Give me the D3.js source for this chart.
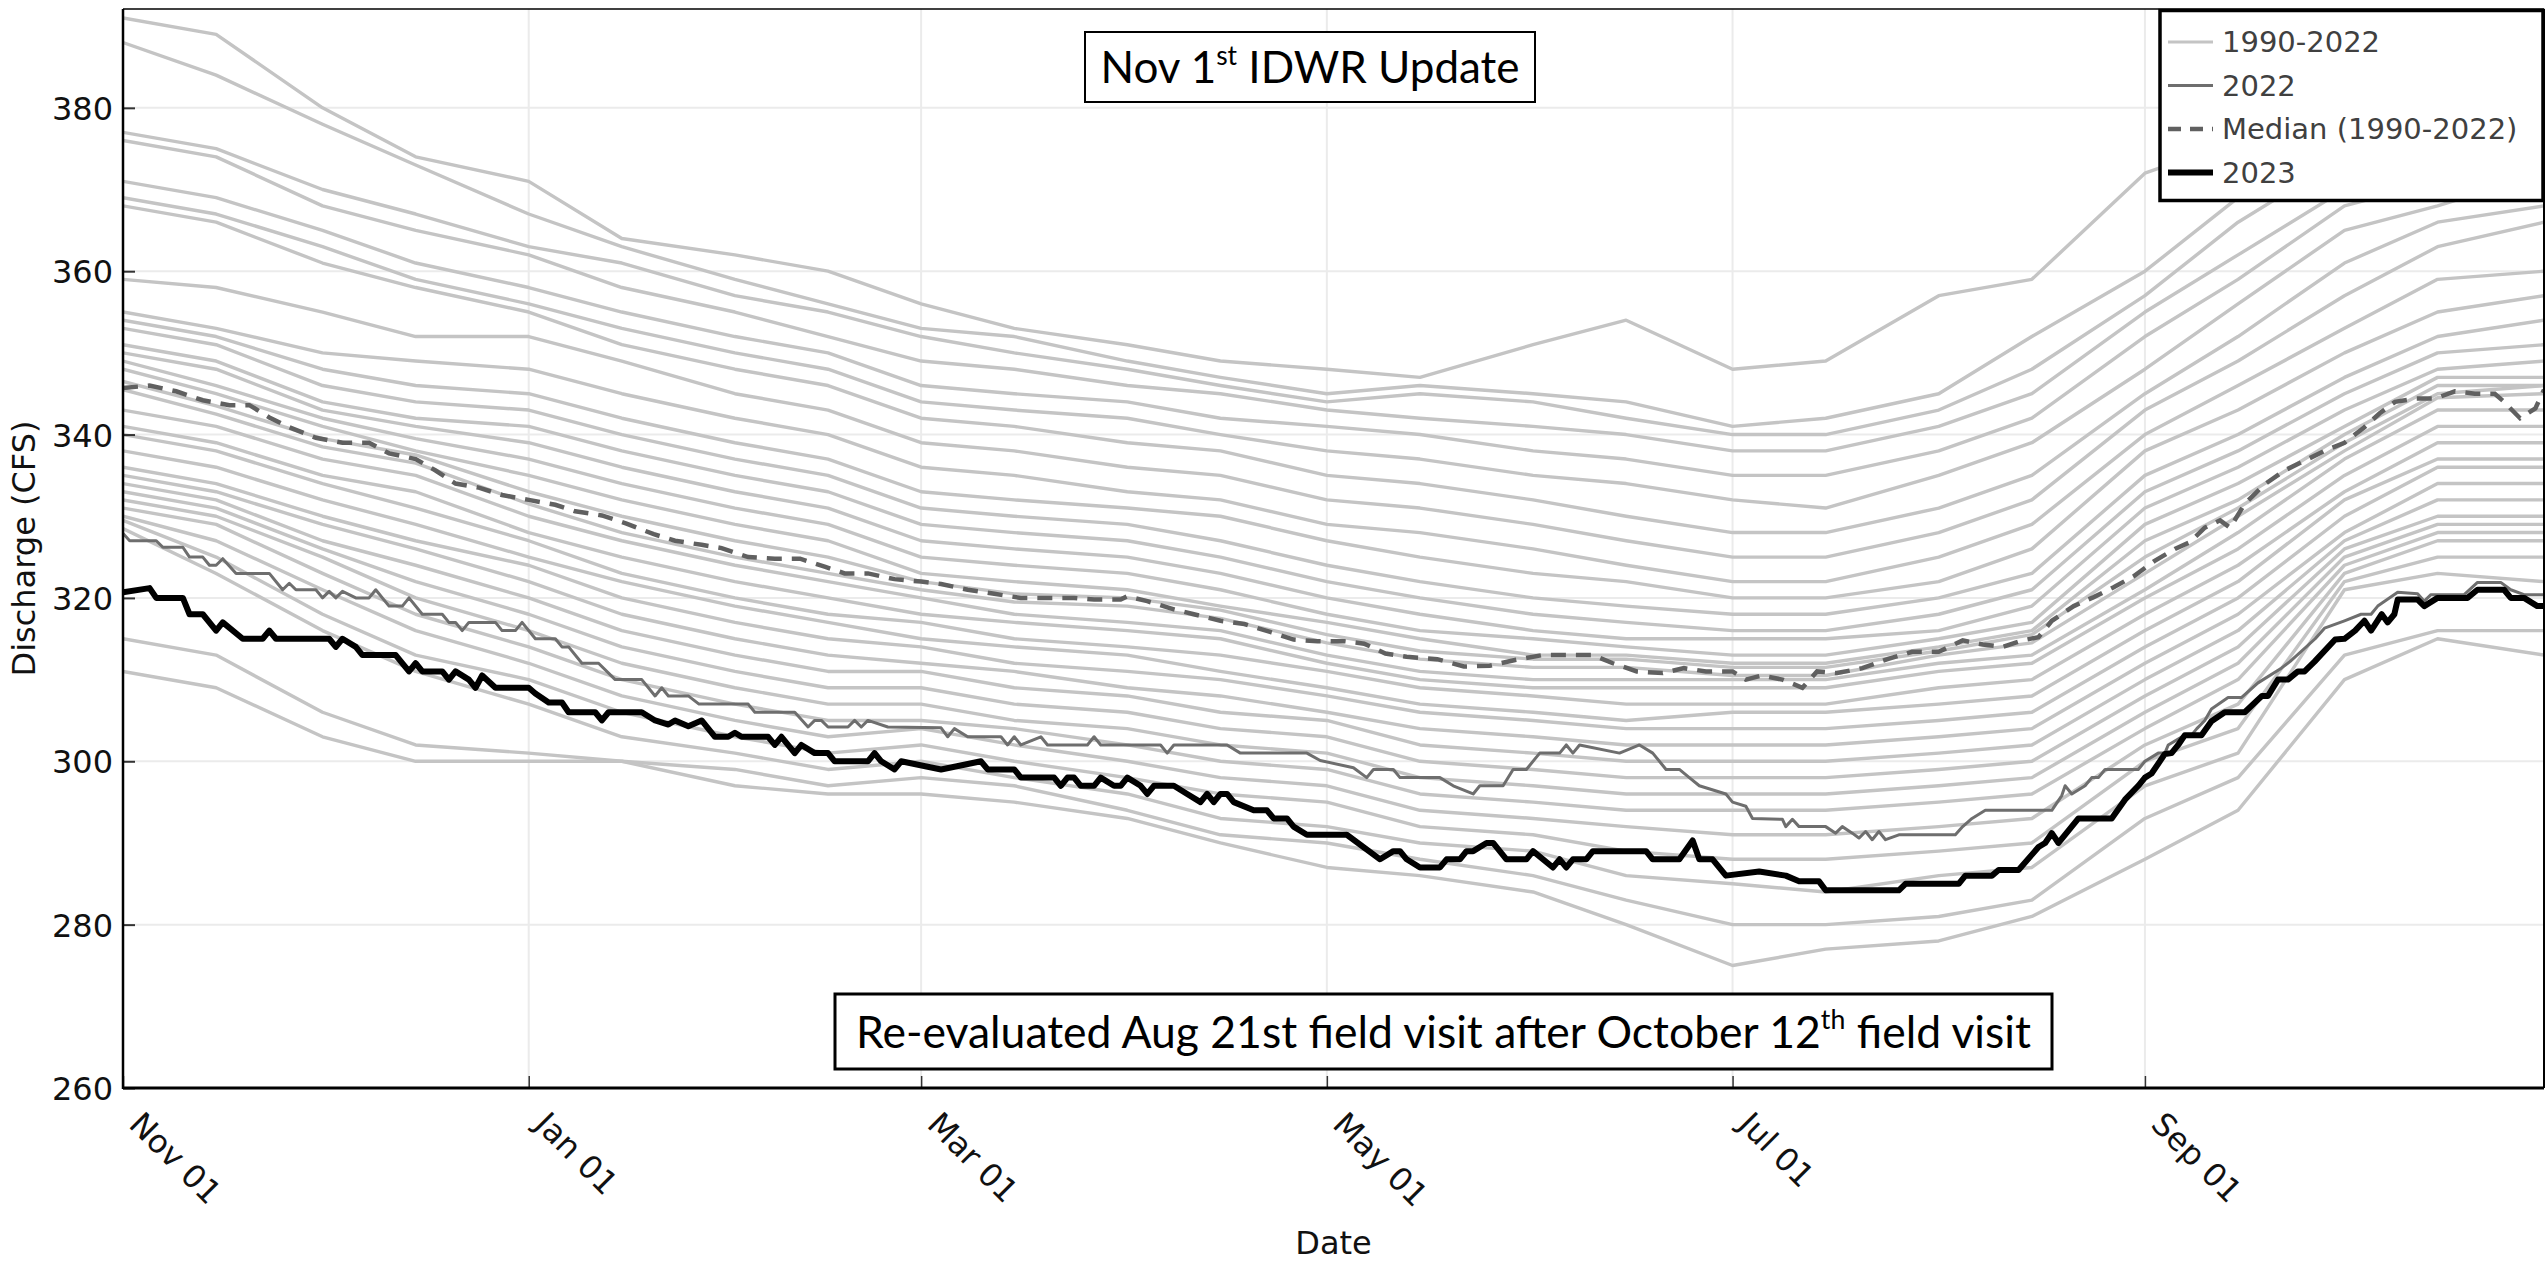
<!DOCTYPE html>
<html lang="en">
<head>
<meta charset="utf-8">
<title>Discharge (CFS) - Nov 1st IDWR Update</title>
<script src="https://cdnjs.cloudflare.com/ajax/libs/d3/7.8.5/d3.min.js"></script>
<style>
  body { margin: 0; background: #fff; }
  svg { display: block; }
</style>
</head>
<body>
<script>
// key dates used for the 1990-2022 runs (every ~2 weeks)
var keyDates = ["2022-11-01","2022-11-15","2022-12-01","2022-12-15","2023-01-01","2023-01-15",
  "2023-02-01","2023-02-15","2023-03-01","2023-03-15","2023-04-01","2023-04-15","2023-05-01",
  "2023-05-15","2023-06-01","2023-06-15","2023-07-01","2023-07-15","2023-08-01","2023-08-15",
  "2023-09-01","2023-09-15","2023-10-01","2023-10-15","2023-10-31"];

// 1990-2022 runs, upper bundle
var highRuns = [
  [391,389,380,374,371,364,362,360,356,353,351,349,348,347,351,354,348,349,357,359,372,376,380,383,386],
  [388,384,378,373,367,363,359,356,353,352,349,347,345,346,345,344,341,342,345,352,360,369,377,380,383],
  [377,375,370,367,363,361,357,355,352,350,348,346,344,345,344,342,340,340,343,348,357,366,374,377,380],
  [376,374,368,365,362,358,355,352,349,348,346,345,343,342,341,340,338,338,341,345,355,362,370,374,377],
  [371,369,365,361,358,355,352,350,346,345,344,342,341,340,338,337,335,335,338,342,352,359,368,371,374],
  [369,367,363,359,356,353,350,348,344,343,342,340,338,337,335,334,332,331,335,339,348,356,365,368,372],
  [368,366,361,358,355,351,348,346,342,341,339,338,335,334,332,330,328,328,331,335,345,352,361,366,368],
  [359,358,355,352,352,349,345,343,339,338,336,335,332,331,329,327,325,325,328,332,343,349,357,363,366],
  [355,353,350,349,348,345,342,340,336,335,333,332,329,328,326,324,322,322,325,329,340,346,353,359,360],
  [354,352,348,346,345,342,339,337,333,332,331,330,327,325,323,322,320,320,322,326,338,343,350,355,357]
];
// middle bundle
var midRuns = [
  [353,351,346,344,343,340,337,335,331,330,329,327,324,322,320,319,318,318,320,323,335,340,347,352,354],
  [351,349,344,342,341,338,335,333,329,328,327,325,322,320,318,317,316,316,318,321,333,338,345,350,351],
  [350,348,343,341,339,336,333,331,327,326,325,323,320,318,316,315,315,315,316,319,331,336,343,348,349],
  [349,346,342,339.5,337,334,331,329,325,324,323,321,318,316,315,314,313,313,315,317,329,334,341,347,347],
  [348,345,341,338,335,332,329,327,323,322,321,319,317,315,313,313,312,312,314,316,327,332,340,346,346],
  [346.5,343.5,339.5,337.5,333,330,327,325,322,320.5,320,318.5,315.5,313.5,312.5,312.5,311.5,311.5,313.5,315.5,325,331,339,345,346],
  [345.5,342.5,338.5,336.5,331.5,328,325,323,321,319.5,319,317.5,314.5,312.5,311.5,311.5,310.5,310.5,313,314.5,323,330,338,344.5,345],
  [343,341,337,335,330,327,324,322,320,318,317,316,313,311,310,310,310,310,312,313,321,328,337,343,343],
  [341,339,335,333,328,325,322,320,318,317,316,315,312,310,309,309,309,309,311,312,320,326,335,341,341],
  [340,338,334,331,327,323,320,318,317,315,314,313,311,309,308,307,307,307,309,310,318,324,333,339,339],
  [338,336,332,329,325,322,319,317,315,314,313,311,309,307,306,305,306,306,307,308,316,322,332,337,337],
  [336,334,330,327,324,320,317,315,314,312,311,310,308,306,305,304,304,304,305,306,314,320,330,336,336]
];
// lower bundle
var lowRuns = [
  [335,333,329,326,322,318,315,313,312,311,309,308,306,304,303,302,302,302,303,304,312,318,328,334,334],
  [334,332,327,324,320,316,313,311,311,309,308,306,305,302,301,300,300,300,301,302,310,316,327,332,332],
  [333,331,326,322,318,314,311,309,309,307,306,304,303,300,299,298,298,298,299,300,308,314,326,330,330],
  [332,330,325,320,316,312,309,307,307,305,304,302,301,298,297,296,296,296,297,298,306,312,325,329,329],
  [331,329,323,318,314,310,307,305,305,304,302,300,299,296,295,294,294,294,295,296,304,310,324,328,328],
  [330,327,321,316,312,308,305,303,304,302,300,298,297,294,293,292,291,291,292,293,302,307,323,327,327],
  [329.5,325,318,313,310,306,303,301,302,300,298,296,295,292,291,289,288,288,289,290,300,304,322,325,325],
  [328.5,323,316,311,307,303,301,299,300,298,296,293,292,290,289,286,285,284,286,287,297,301,321,323,322],
  [315,313,306,302,301,300,299,297,298,297,294,291,290,288,286,283,280,280,281,283,293,298,313,316,316],
  [311,309,303,300,300,300,297,296,296,295,293,290,287,286,284,280,275,277,278,281,288,294,310,315,313]
];

// [days after Nov 1, cfs]
var median = [[0,345.7],[4,346],[8,345.3],[12,344.2],[16,343.6],[19,343.6],[22,342.1],[25,340.9],[29,339.6],
  [33,339],[37,339],[40,337.7],[44,337],[47,335.6],[50,334],[53.5,333.5],[57,332.6],[61,332],[65,331.4],
  [68,330.6],[72,330.1],[75.7,329.1],[79.8,327.8],[83,327],[87,326.5],[90,326.1],[94,325],[98,324.8],
  [101.8,324.8],[105.6,323.8],[108.5,323],[112,323],[116,322.3],[120,322],[123,321.7],[127,321],[131,320.5],
  [135,320],[143,320],[146,319.8],[150,319.8],[151,320.2],[154,319.6],[158,318.6],[161,318],[165,317.2],
  [168.6,316.8],[172.6,315.8],[176,314.9],[179.6,314.7],[183.6,314.7],[186.6,314.4],[189.8,313.2],[193,312.8],
  [197.6,312.5],[201.6,311.6],[205.5,311.7],[209.3,312.4],[213.4,313],[217,313],[221,313],[224,312],
  [227.6,311],[231.5,310.8],[234.7,311.4],[238,311],[242,311],[244,310],[246.4,310.5],[249.5,310],
  [252.5,309],[254.7,311],[257.7,310.8],[261.5,311.4],[265.3,312.5],[269,313.4],[273,313.4],[276.6,314.8],
  [279.6,314.3],[282.6,314],[285.6,314.8],[288,315.2],[290,317.2],[293.3,319],[296.3,320.1],[299.3,321.3],
  [302.4,322.7],[305.4,324.5],[308.5,326],[310.7,326.8],[313,328.6],[315.3,329.5],[316.8,328.6],[319,331.5],
  [322,333.9],[325,335.6],[328,336.8],[331,338],[334,339],[337,340.9],[339.3,342.6],[341.6,344],[344.6,344.4],
  [347.6,344.4],[350.6,345.3],[353.6,345],[356.6,345],[358,344],[360.4,342],[362.7,343.2],[364,345.5]];

var run2022 = [[0,327.9],[1,327],[5,327],[6,326.2],[9,326.2],[10,325],[12,325],[13,324],[14,324],[15,324.8],
  [17,323],[22,323],[24,321],[25,321.8],[26,321],[29,321],[30,320],[31,320.8],[32,320],[33,320.8],[35,320],
  [37,320],[38,321],[40,319],[42,319],[43,320],[45,318],[48,318],[49,317],[50,317],[51,316],[52,317],[56,317],
  [57,316],[59,316],[60,317],[62,315],[65,315],[66,314],[67,314],[69,312],[71.5,312],[74,310],[78,310],[80,308],
  [81,309],[82,308],[85,308],[86.6,307],[94,307],[95,306],[101,306],[103,304.2],[104,305],[105,305],[106,304.2],
  [109,304.2],[110,305],[111,304.2],[112,305],[115,304.2],[123,304.1],[124,303],[125,304],[127,303],[132,303],
  [133,302],[134,303],[135,302],[138,303],[139,302],[145,302],[146,303],[147,302],[156,302],[157,301],[158,302],
  [166,302],[168,301],[178,301],[180,300.1],[185,299.2],[187,298],[188,299],[191,299],[192,298],[198,298],
  [200,297],[203,296],[204,297],[207.5,297],[209,299],[211,299],[213,301],[216,301],[217,302],[218,301],
  [219,302],[225,301],[228,302],[230,301],[232,299],[234,299],[235.5,298],[237,297],[241,296],[242,295],
  [244,294.5],[245,293],[249.5,292.9],[250,292],[251,292.9],[252,292],[256,292],[257.5,291.2],[258.5,292],
  [260,291.2],[261,290.6],[262,291.4],[263,290.4],[264,291.4],[265,290.4],[267,291],[275.5,291],[276.6,292],
  [278,293],[280,294],[290,294],[291.5,295.8],[292,297],[293,296],[295,297],[296,298],[297,298],[298,299],
  [303,299],[304,300],[306,301],[307,301],[307.5,302],[310,303.2],[311,303.2],[311.8,304],[313,305],[314,306.4],
  [316.5,307.8],[318.5,307.8],[321,309.6],[324.5,311.4],[325.8,312.2],[329.6,315],[331,316.3],[334,317.2],
  [336.5,318],[338,318],[339,319],[342,320.7],[345,320.5],[346,319.6],[347,320.4],[352,320.4],[354,321.9],
  [357.5,321.9],[359,321],[361,320.4],[364,320.4]];

var run2023 = [[0,320.7],[4,321.2],[5,320],[9,320],[10,318],[12,318],[14,316],[15,317],[18,315],[21,315],
  [22,316],[23,315],[31,315],[32,314],[33,315],[35,314],[36,313],[41,313],[43,311],[44,312],[45,311],[48,311],
  [49,310],[50,311],[52,310],[53,309],[54,310.5],[56,309],[61,309],[62,308.3],[64,307.2],[66,307.2],[67,306],
  [71,306],[72,305],[73,306],[78,306],[80,305],[82,304.5],[83,305],[85,304.3],[87,305],[89,303],[91,303],
  [92,303.5],[93,303],[97,303],[98,302],[99,303],[101,301],[102,302],[104,301],[106,301],[107,300],[112,300],
  [113,301],[114,300],[116,299],[117,300],[123,299],[129,300],[130,299],[134,299],[135,298],[140,298],[141,297],
  [142,298],[143,298],[144,297],[146,297],[147,298],[149,297],[150,297],[151,298],[153,297],[154,296],[155,297],
  [158,297],[160,296],[162,295],[163,296],[164,295],[165,296],[166,296],[167,295],[170,294],[172,294],[173,293],
  [175,293],[176,292],[178,291],[184,291],[189,288],[191,289],[192,289],[193,288],[195,287],[198,287],[199,288],
  [201,288],[202,289],[203,289],[205,290],[206,290],[208,288],[211,288],[212,289],[215,287],[216,288],[217,287],
  [218,288],[220,288],[221,289],[229,289],[230,288],[234,288],[236,290.3],[237,288],[239,288],[241,286],
  [246,286.5],[250,286],[252,285.3],[255,285.3],[256,284.2],[267,284.2],[268,285],[276,285],[277,286],[281,286],
  [282,286.7],[285,286.7],[288,289.5],[289,290],[290,291.2],[291,290],[294,293],[299,293],[301,295.3],[303,297],
  [304,298],[305,298.5],[307,300.9],[308,301],[309,302],[310,303.2],[312.5,303.2],[314,304.9],[316,306],
  [319,306],[321.6,308],[322.5,308],[324,310],[325.5,310],[327,311],[328,311],[329.5,312.2],[332.6,314.9],
  [334,315],[335.6,316],[337,317.2],[338,316],[339.6,318],[340.5,317],[341.5,318],[342,319.8],[345,319.8],
  [346,319],[348,320],[352.5,320],[354,321],[358,321],[359,320],[361,320],[363,319],[364,319]];

var yTicks = [260, 280, 300, 320, 340, 360, 380];
var legendLabels = ["1990-2022", "2022", "Median (1990-2022)", "2023"];

var W = 2547, H = 1268;
var plot = {left: 123, right: 2544, top: 9, bottom: 1088};

var parse = d3.utcParse("%Y-%m-%d");
var start = parse("2022-11-01");
function dayToDate(d) { return new Date(start.getTime() + d * 864e5); }

var x = d3.scaleUtc().domain([start, parse("2023-10-31")]).range([plot.left, plot.right]);
var y = d3.scaleLinear().domain([260, 392.1]).range([plot.bottom, plot.top]);

var svg = d3.select("body").append("svg").attr("width", W).attr("height", H);

svg.append("defs").append("clipPath").attr("id", "plotclip")
  .append("rect").attr("x", plot.left).attr("y", plot.top)
  .attr("width", plot.right - plot.left).attr("height", plot.bottom - plot.top);

var xTickVals = x.ticks(d3.utcMonth.every(2));

// grid
var grid = svg.append("g");
grid.selectAll(".gx").data(xTickVals).enter().append("line")
  .attr("x1", function(d) { return x(d); }).attr("x2", function(d) { return x(d); })
  .attr("y1", plot.top).attr("y2", plot.bottom)
  .attr("stroke", "#ebebeb").attr("stroke-width", 2);
grid.selectAll(".gy").data(yTicks).enter().append("line")
  .attr("x1", plot.left).attr("x2", plot.right)
  .attr("y1", function(d) { return y(d); }).attr("y2", function(d) { return y(d); })
  .attr("stroke", "#ebebeb").attr("stroke-width", 2);

var dates = keyDates.map(parse);
var line = d3.line().x(function(d) { return x(d[0]); }).y(function(d) { return y(d[1]); });

var runs = highRuns.concat(midRuns, lowRuns).map(function(r) {
  return r.map(function(v, i) { return [dates[i], v]; });
});
function toDates(s) { return s.map(function(p) { return [dayToDate(p[0]), p[1]]; }); }

var lines = svg.append("g").attr("clip-path", "url(#plotclip)");
lines.selectAll(".hist").data(runs).enter().append("path")
  .attr("d", line).attr("fill", "none")
  .attr("stroke", "#c4c4c4").attr("stroke-width", 3.4).attr("stroke-linejoin", "round");

lines.append("path").attr("d", line(toDates(run2022))).attr("fill", "none")
  .attr("stroke", "#6e6e6e").attr("stroke-width", 3).attr("stroke-linejoin", "round");

lines.append("path").attr("d", line(toDates(median))).attr("fill", "none")
  .attr("stroke", "#606060").attr("stroke-width", 4.5).attr("stroke-dasharray", "15,10");

lines.append("path").attr("d", line(toDates(run2023))).attr("fill", "none")
  .attr("stroke", "#000").attr("stroke-width", 6).attr("stroke-linejoin", "round");

// axes
var gx = svg.append("g").attr("transform", "translate(0," + plot.bottom + ")")
  .call(d3.axisBottom(x).tickValues(xTickVals).tickFormat(d3.utcFormat("%b %d")).tickSize(-12).tickPadding(0));
gx.attr("font-family", "'DejaVu Sans', sans-serif").attr("font-size", 32);
gx.select(".domain").remove();
gx.selectAll(".tick line").attr("stroke", "#333").attr("stroke-width", 1.5);
gx.selectAll(".tick text").attr("x", 0).attr("y", 0).attr("dy", 0)
  .attr("text-anchor", "start").attr("fill", "#111")
  .attr("transform", "translate(4,38) rotate(45)");

var gy = svg.append("g").attr("transform", "translate(" + plot.left + ",0)")
  .call(d3.axisLeft(y).tickValues(yTicks).tickSize(-12).tickPadding(10));
gy.attr("font-family", "'DejaVu Sans', sans-serif").attr("font-size", 32);
gy.select(".domain").remove();
gy.selectAll(".tick line").attr("stroke", "#333").attr("stroke-width", 2);
gy.selectAll(".tick text").attr("fill", "#111").attr("dy", "0.36em");

// frame
svg.append("line").attr("x1", plot.left).attr("x2", plot.right).attr("y1", plot.top).attr("y2", plot.top)
  .attr("stroke", "#000").attr("stroke-width", 1.5);
svg.append("line").attr("x1", plot.right).attr("x2", plot.right).attr("y1", plot.top).attr("y2", plot.bottom)
  .attr("stroke", "#000").attr("stroke-width", 2);
svg.append("line").attr("x1", plot.left).attr("x2", plot.left).attr("y1", plot.top).attr("y2", plot.bottom + 1)
  .attr("stroke", "#000").attr("stroke-width", 2.5);
svg.append("line").attr("x1", plot.left).attr("x2", plot.right).attr("y1", plot.bottom).attr("y2", plot.bottom)
  .attr("stroke", "#000").attr("stroke-width", 3);

// axis titles
svg.append("text").attr("x", (plot.left + plot.right) / 2).attr("y", 1254)
  .attr("text-anchor", "middle").attr("font-family", "'DejaVu Sans', sans-serif")
  .attr("font-size", 32).attr("fill", "#111").text("Date");
svg.append("text").attr("transform", "translate(35," + (plot.top + plot.bottom) / 2 + ") rotate(-90)")
  .attr("text-anchor", "middle").attr("font-family", "'DejaVu Sans', sans-serif")
  .attr("font-size", 32).attr("fill", "#111").text("Discharge (CFS)");

// annotation boxes
function noteBox(bx, by, bw, bh, sw, before, sup, after, size, baseline) {
  var g = svg.append("g");
  g.append("rect").attr("x", bx).attr("y", by).attr("width", bw).attr("height", bh)
    .attr("fill", "#fff").attr("stroke", "#000").attr("stroke-width", sw);
  var t = g.append("text").attr("x", bx + bw / 2).attr("y", baseline)
    .attr("text-anchor", "middle").attr("font-family", "Lato, 'Open Sans', sans-serif")
    .attr("font-size", size).attr("fill", "#000");
  t.append("tspan").text(before);
  t.append("tspan").attr("font-size", size * 0.6).attr("dy", -size * 0.42).text(sup);
  t.append("tspan").attr("dy", size * 0.42).text(after);
  return t;
}
noteBox(1085, 32, 450, 70, 2, "Nov 1", "st", " IDWR Update", 44, 83);
noteBox(835, 994, 1217, 75, 3, "Re-evaluated Aug 21st field visit after October 12", "th", " field visit", 44.5, 1048);

// legend
var lg = svg.append("g");
lg.append("rect").attr("x", 2160).attr("y", 10.5).attr("width", 383).attr("height", 190)
  .attr("fill", "#fff").attr("stroke", "#000").attr("stroke-width", 3.5);
var legendStyle = [
  {stroke: "#c4c4c4", width: 3, dash: null},
  {stroke: "#6e6e6e", width: 3, dash: null},
  {stroke: "#606060", width: 4.5, dash: "13,9"},
  {stroke: "#000", width: 6, dash: null}
];
var item = lg.selectAll(".item").data(legendLabels).enter().append("g")
  .attr("transform", function(d, i) { return "translate(2168," + (42 + i * 43.5) + ")"; });
item.append("line").attr("x1", 0).attr("x2", 45).attr("y1", 0).attr("y2", 0)
  .attr("stroke", function(d, i) { return legendStyle[i].stroke; })
  .attr("stroke-width", function(d, i) { return legendStyle[i].width; })
  .attr("stroke-dasharray", function(d, i) { return legendStyle[i].dash; });
item.append("text").attr("x", 54).attr("y", 0).attr("dy", "0.36em")
  .attr("font-family", "'DejaVu Sans', sans-serif").attr("font-size", 29)
  .attr("fill", "#404040").text(function(d) { return d; });
</script>
</body>
</html>
